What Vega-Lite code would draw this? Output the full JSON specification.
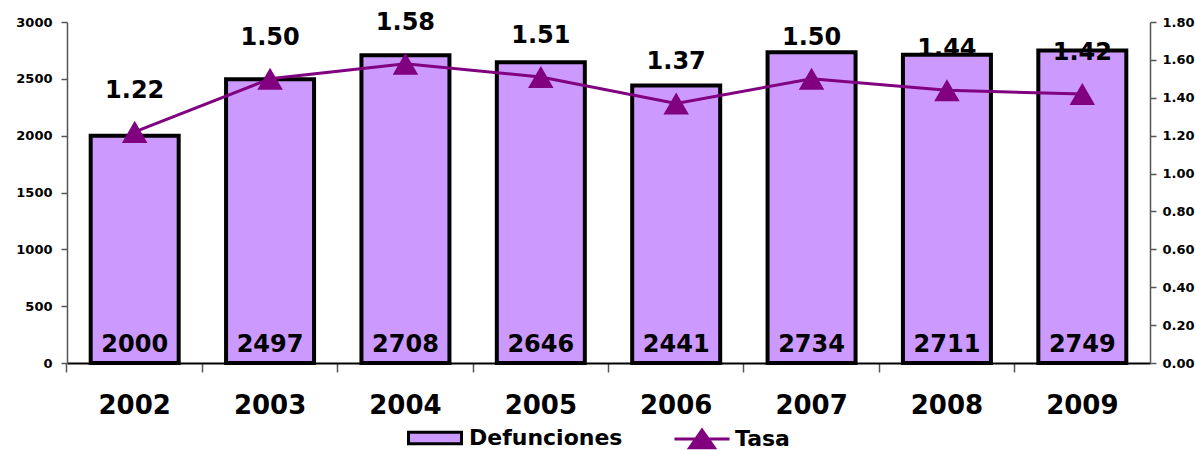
{
  "$schema": "https://vega.github.io/schema/vega-lite/v6.json",
  "width": 1083,
  "height": 341,
  "autosize": {"type": "none"},
  "padding": {"left": 67, "top": 22, "right": 45, "bottom": 87},
  "background": "white",
  "config": {
    "view": {"stroke": null},
    "font": "DejaVu Sans",
    "axis": {"grid": false, "labelFont": "DejaVu Sans", "labelFontWeight": "bold", "labelColor": "black"},
    "legend": {"labelFont": "DejaVu Sans", "labelFontWeight": "bold", "labelColor": "black", "padding": 0}
  },
  "data": {
    "values": [
      {"anio": "2002", "defunciones": 2000, "tasa": 1.22},
      {"anio": "2003", "defunciones": 2497, "tasa": 1.50},
      {"anio": "2004", "defunciones": 2708, "tasa": 1.58},
      {"anio": "2005", "defunciones": 2646, "tasa": 1.51},
      {"anio": "2006", "defunciones": 2441, "tasa": 1.37},
      {"anio": "2007", "defunciones": 2734, "tasa": 1.50},
      {"anio": "2008", "defunciones": 2711, "tasa": 1.44},
      {"anio": "2009", "defunciones": 2749, "tasa": 1.42}
    ]
  },
  "encoding": {
    "x": {
      "field": "anio",
      "type": "nominal",
      "sort": null,
      "scale": {"paddingInner": 0.35, "paddingOuter": 0.175},
      "axis": {
        "title": null,
        "labelAngle": 0,
        "labelFontSize": 26,
        "labelPadding": 20,
        "bandPosition": -0.27,
        "tickSize": 9,
        "tickColor": "#555555",
        "tickWidth": 1.5,
        "domainColor": "black",
        "domainWidth": 2
      }
    }
  },
  "layer": [
    {
      "encoding": {
        "y": {
          "field": "defunciones",
          "type": "quantitative",
          "scale": {"domain": [0, 3000], "nice": false},
          "axis": {
            "title": null,
            "values": [0, 500, 1000, 1500, 2000, 2500, 3000],
            "format": "d",
            "labelFontSize": 13,
            "labelPadding": 9,
            "tickSize": 6,
            "tickColor": "#555555",
            "tickWidth": 1.5,
            "domainColor": "#555555",
            "domainWidth": 1.5
          }
        }
      },
      "layer": [
        {
          "mark": {"type": "bar", "stroke": "black", "strokeWidth": 4},
          "encoding": {
            "fill": {
              "datum": "Defunciones",
              "type": "nominal",
              "scale": {"domain": ["Defunciones"], "range": ["#CC99FF"]},
              "legend": {
                "title": null,
                "orient": "none",
                "legendX": 340,
                "legendY": 388,
                "symbolType": "M-1,-0.22H1V0.22H-1Z",
                "symbolSize": 2809,
                "symbolStrokeColor": "black",
                "symbolStrokeWidth": 3,
                "symbolOpacity": 1,
                "labelFontSize": 22,
                "labelOffset": 6
              }
            }
          }
        },
        {
          "mark": {"type": "text", "font": "DejaVu Sans", "fontWeight": "bold", "fontSize": 24, "color": "black", "baseline": "alphabetic", "dy": -11},
          "encoding": {
            "y": {"datum": 0},
            "text": {"field": "defunciones", "type": "quantitative"}
          }
        }
      ]
    },
    {
      "encoding": {
        "y": {
          "field": "tasa",
          "type": "quantitative",
          "scale": {"domain": [0, 1.8], "nice": false},
          "axis": {
            "title": null,
            "orient": "right",
            "values": [0, 0.2, 0.4, 0.6, 0.8, 1.0, 1.2, 1.4, 1.6, 1.8],
            "format": ".2f",
            "labelFontSize": 13,
            "labelPadding": 6,
            "tickSize": 6,
            "tickColor": "#555555",
            "tickWidth": 1.5,
            "domainColor": "#555555",
            "domainWidth": 1.5
          }
        }
      },
      "layer": [
        {
          "mark": {"type": "line", "strokeWidth": 3},
          "encoding": {
            "stroke": {
              "datum": "Tasa",
              "type": "nominal",
              "scale": {"domain": ["Tasa"], "range": ["#800080"]},
              "legend": {
                "title": null,
                "orient": "none",
                "legendX": 606,
                "legendY": 388,
                "symbolType": "M-1,0H1M-0.45,0.32L0,-0.32L0.45,0.32Z",
                "symbolSize": 3025,
                "symbolStrokeWidth": 3,
                "symbolFillColor": "#800080",
                "labelFontSize": 22,
                "labelOffset": 4,
                "encode": {"symbols": {"update": {"fill": {"value": "#800080"}, "stroke": {"value": "#800080"}}}}
              }
            }
          }
        },
        {
          "mark": {"type": "point", "shape": "triangle-up", "size": 650, "filled": true, "color": "#800080", "opacity": 1},
          "encoding": {}
        },
        {
          "mark": {"type": "text", "font": "DejaVu Sans", "fontWeight": "bold", "fontSize": 24, "color": "black", "baseline": "middle", "dy": -41},
          "encoding": {
            "text": {"field": "tasa", "type": "quantitative", "format": ".2f"}
          }
        }
      ]
    }
  ],
  "resolve": {"scale": {"y": "independent"}}
}
